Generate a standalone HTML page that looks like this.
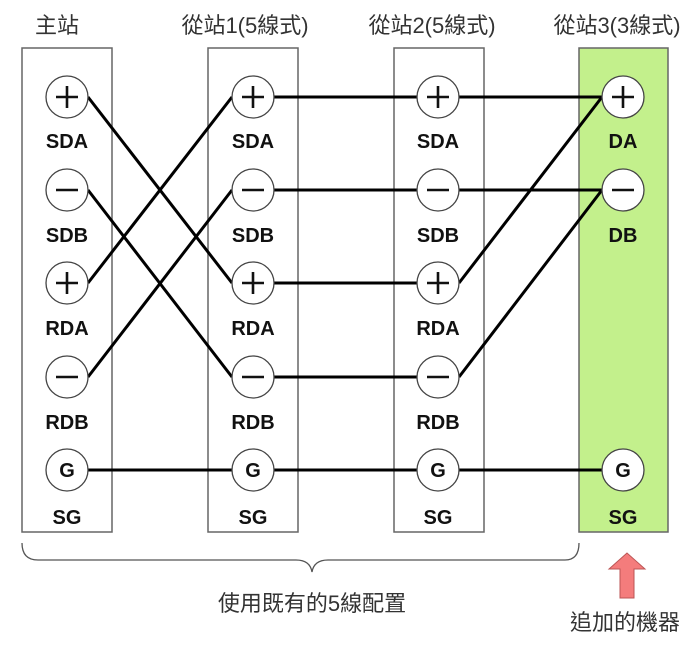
<!DOCTYPE html>
<html><head><meta charset="utf-8"><style>
body{margin:0;background:#fff;}
svg text{font-family:"Liberation Sans","Noto Sans CJK TC",sans-serif;}
</style></head><body>
<svg width="700" height="643" viewBox="0 0 700 643" xmlns="http://www.w3.org/2000/svg">
<g font-size="22" fill="#333" text-anchor="middle">
<text x="57" y="33">主站</text>
<text x="245" y="33">從站1(5線式)</text>
<text x="432" y="33">從站2(5線式)</text>
<text x="617" y="33">從站3(3線式)</text>
</g>
<g stroke="#666" stroke-width="1.5">
<rect x="22" y="48" width="90" height="484" fill="#fff"/>
<rect x="208" y="48" width="90" height="484" fill="#fff"/>
<rect x="394" y="48" width="90" height="484" fill="#fff"/>
<rect x="579" y="48" width="89" height="484" fill="#c3f08c"/>
</g>
<g stroke="#000" stroke-width="3" fill="none">
<line x1="88" y1="97" x2="232" y2="283"/>
<line x1="88" y1="190" x2="232" y2="377"/>
<line x1="88" y1="283" x2="232" y2="97"/>
<line x1="88" y1="377" x2="232" y2="190"/>
<line x1="274" y1="97" x2="417" y2="97"/>
<line x1="274" y1="190" x2="417" y2="190"/>
<line x1="274" y1="283" x2="417" y2="283"/>
<line x1="274" y1="377" x2="417" y2="377"/>
<line x1="459" y1="97" x2="602" y2="97"/>
<line x1="459" y1="190" x2="602" y2="190"/>
<line x1="459" y1="283" x2="602" y2="97"/>
<line x1="459" y1="377" x2="602" y2="190"/>
<line x1="88" y1="470" x2="602" y2="470"/>
</g>
<g stroke="#444" stroke-width="1.3" fill="#fff">
<circle cx="67" cy="97" r="21"/><circle cx="67" cy="190" r="21"/><circle cx="67" cy="283" r="21"/><circle cx="67" cy="377" r="21"/><circle cx="67" cy="470" r="21"/>
<circle cx="253" cy="97" r="21"/><circle cx="253" cy="190" r="21"/><circle cx="253" cy="283" r="21"/><circle cx="253" cy="377" r="21"/><circle cx="253" cy="470" r="21"/>
<circle cx="438" cy="97" r="21"/><circle cx="438" cy="190" r="21"/><circle cx="438" cy="283" r="21"/><circle cx="438" cy="377" r="21"/><circle cx="438" cy="470" r="21"/>
<circle cx="623" cy="97" r="21"/><circle cx="623" cy="190" r="21"/><circle cx="623" cy="470" r="21"/>
</g>
<g stroke="#111" stroke-width="2.6" fill="none">
<path d="M56,97h22M67,86v22M56,190h22M56,283h22M67,272v22M56,377h22"/>
<path d="M242,97h22M253,86v22M242,190h22M242,283h22M253,272v22M242,377h22"/>
<path d="M427,97h22M438,86v22M427,190h22M427,283h22M438,272v22M427,377h22"/>
<path d="M612,97h22M623,86v22M612,190h22"/>
</g>
<g font-size="20" font-weight="bold" fill="#111" text-anchor="middle">
<text x="67" y="477">G</text><text x="253" y="477">G</text><text x="438" y="477">G</text><text x="623" y="477">G</text>
</g>
<g font-size="20" font-weight="bold" fill="#111" text-anchor="middle">
<text x="67" y="148">SDA</text><text x="67" y="242">SDB</text><text x="67" y="335">RDA</text><text x="67" y="429">RDB</text><text x="67" y="524">SG</text>
<text x="253" y="148">SDA</text><text x="253" y="242">SDB</text><text x="253" y="335">RDA</text><text x="253" y="429">RDB</text><text x="253" y="524">SG</text>
<text x="438" y="148">SDA</text><text x="438" y="242">SDB</text><text x="438" y="335">RDA</text><text x="438" y="429">RDB</text><text x="438" y="524">SG</text>
<text x="623" y="148">DA</text><text x="623" y="242">DB</text><text x="623" y="524">SG</text>
</g>
<path d="M22,543 Q22,560 38,560 L296,560 Q310,560 312,572 Q314,560 328,560 L565,560 Q579,560 579,543" stroke="#555" stroke-width="1.3" fill="none"/>
<text x="312" y="611" font-size="22" fill="#333" text-anchor="middle">使用既有的5線配置</text>
<path d="M620,598 L620,569 L609,569 L627,553 L645,569 L634,569 L634,598 Z" fill="#f47c7c" stroke="#b55" stroke-width="1"/>
<text x="625" y="630" font-size="22" fill="#333" text-anchor="middle">追加的機器</text>
</svg>
</body></html>
